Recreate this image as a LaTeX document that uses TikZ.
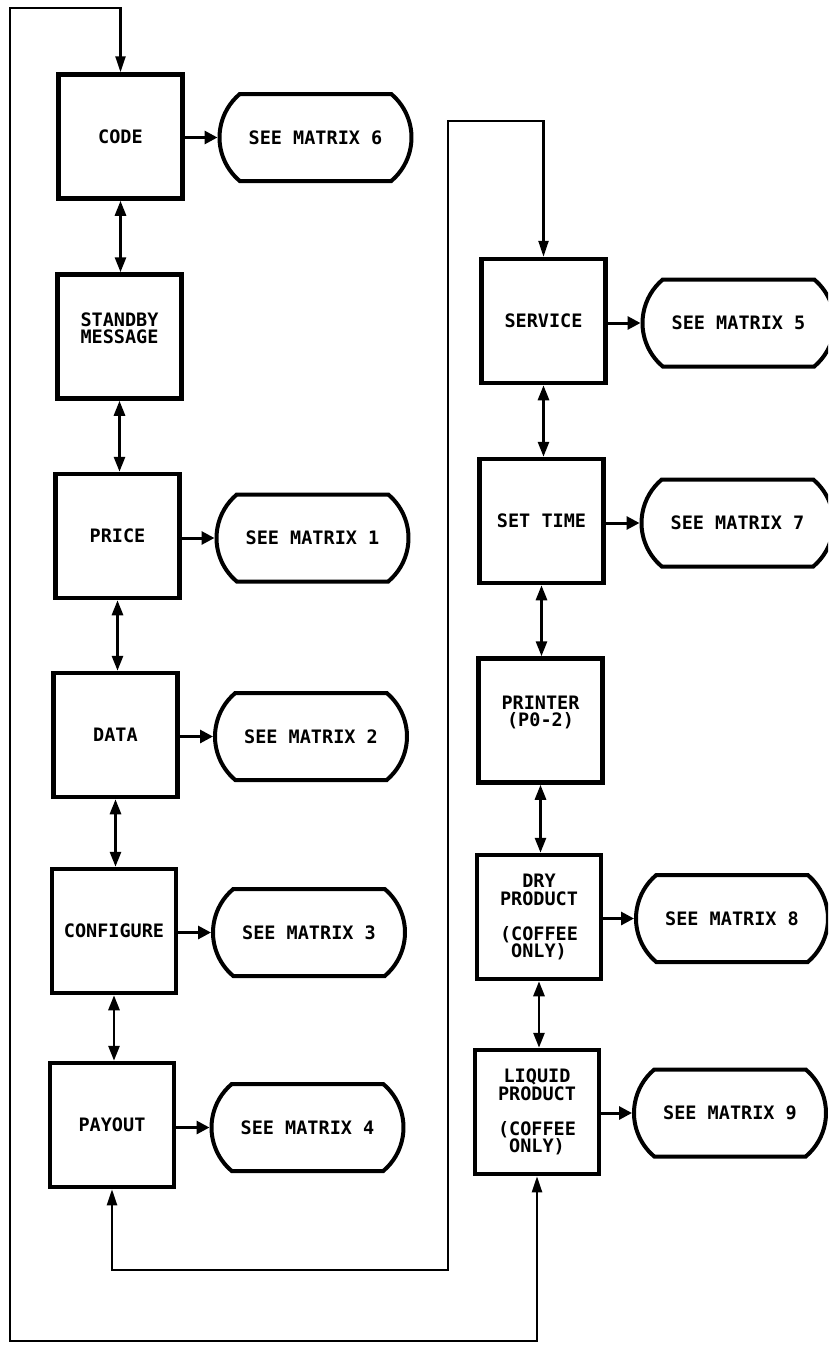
\documentclass[tikz,border=0pt]{standalone}
\usepackage{fontspec}
\newfontfamily\plotfont{DejaVu Sans Mono}
\usetikzlibrary{shapes.misc,arrows.meta}
\begin{document}
\begin{tikzpicture}[x=1pt,y=-1pt,
  font=\plotfont\bfseries\fontsize{18.5pt}{17.5pt}\selectfont,
  proc/.style={draw,line width=4.5pt,minimum width=124pt,minimum height=124pt,inner sep=0pt,align=center},
  term/.style={draw,rounded rectangle,rounded rectangle arc length=100,line width=4pt,minimum width=192pt,minimum height=87pt,inner sep=0pt},
  link/.style={line width=2.8pt,{Triangle[length=15pt,width=11pt]}-{Triangle[length=15pt,width=11pt]}},
  side/.style={line width=3pt,-{Triangle[length=13pt,width=13pt]}},
  loopline/.style={line width=2.3pt,{Triangle[length=16pt,width=10pt]}-{Triangle[length=16pt,width=10pt]}}]
\useasboundingbox (0,0) rectangle (828,1358);
\clip (0,0) rectangle (828,1358);
% left column
\node[proc] (code) at (120.5,136.5) {CODE};
\node[proc,label={[name=standbytxt,align=center,yshift=8pt]center:{STANDBY\\MESSAGE}}] (standby) at (119.5,336.5) {};
\node[proc] (price) at (117.5,536) {PRICE};
\node[proc] (data) at (115.5,735) {DATA};
\node[proc] (configure) at (114,931) {CONFIGURE};
\node[proc] (payout) at (112,1125) {PAYOUT};
% right column
\node[proc] (service) at (543.5,321) {SERVICE};
\node[proc] (settime) at (541.5,521) {SET TIME};
\node[proc,label={[name=printertxt,align=center,yshift=8pt]center:{PRINTER\\(P0-2)}}] (printer) at (540.5,720.5) {};
\node[proc] (dry) at (539,917) {DRY\\PRODUCT\\[17.5pt](COFFEE\\ONLY)};
\node[proc] (liquid) at (537,1112) {LIQUID\\PRODUCT\\[17.5pt](COFFEE\\ONLY)};
% terminals
\node[term] (m6) at (315.5,137.5) {SEE MATRIX 6};
\node[term] (m1) at (312.5,538) {SEE MATRIX 1};
\node[term] (m2) at (311,736.5) {SEE MATRIX 2};
\node[term] (m3) at (309,932.5) {SEE MATRIX 3};
\node[term] (m4) at (307.5,1127.5) {SEE MATRIX 4};
\node[term] (m5) at (738.5,323) {SEE MATRIX 5};
\node[term] (m7) at (737.5,523) {SEE MATRIX 7};
\node[term] (m8) at (732,918.5) {SEE MATRIX 8};
\node[term] (m9) at (730,1113) {SEE MATRIX 9};
% side arrows
\draw[side] (code.east |- m6.west) -- (m6.west);
\draw[side] (price.east |- m1.west) -- (m1.west);
\draw[side] (data.east |- m2.west) -- (m2.west);
\draw[side] (configure.east |- m3.west) -- (m3.west);
\draw[side] (payout.east |- m4.west) -- (m4.west);
\draw[side] (service.east |- m5.west) -- (m5.west);
\draw[side] (settime.east |- m7.west) -- (m7.west);
\draw[side] (dry.east |- m8.west) -- (m8.west);
\draw[side] (liquid.east |- m9.west) -- (m9.west);
% vertical links
\draw[link] (code.south) -- (code.south |- standby.north);
\draw[link] (standby.south) -- (standby.south |- price.north);
\draw[link] (price.south) -- (price.south |- data.north);
\draw[link] (data.south) -- (data.south |- configure.north);
\draw[link] (configure.south) -- (configure.south |- payout.north);
\draw[link] (service.south) -- (service.south |- settime.north);
\draw[link] (settime.south) -- (settime.south |- printer.north);
\draw[link] (printer.south) -- (printer.south |- dry.north);
\draw[link] (dry.south) -- (dry.south |- liquid.north);
% loops
\coordinate (otl) at (10,8);
\coordinate (obl) at (10,1341);
\coordinate (itop) at (448,121);
\coordinate (ibot) at (448,1270);
\draw[loopline] (code.north) |- (otl) -- (obl) -| (liquid.south);
\draw[loopline] (payout.south) |- (ibot) -- (itop) -| (service.north);
\end{tikzpicture}
\end{document}
